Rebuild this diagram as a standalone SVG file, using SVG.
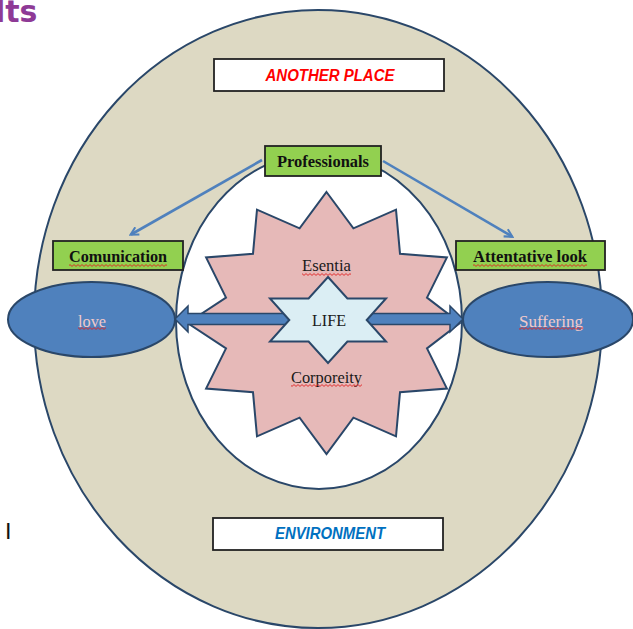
<svg xmlns="http://www.w3.org/2000/svg" width="633" height="629" viewBox="0 0 633 629">
<defs>
<style>
.shape{stroke:#2A4769;stroke-width:2}
.box{stroke:#222222;stroke-width:1.8}
.green{fill:#92D050}
.white{fill:#FFFFFF}
.serif{font-family:"Liberation Serif","Times New Roman",serif;font-size:16px;text-anchor:middle}
.bold{font-weight:bold}
.label{font-family:"Liberation Sans",Arial,sans-serif;font-size:16px;font-weight:bold;font-style:italic;text-anchor:middle}
.wave{fill:url(#wavy)}
.conn{stroke:#4F81BD;stroke-width:2.6;fill:none}
.block{fill:#4F81BD;stroke:#2A4769;stroke-width:1.5}
</style>
<pattern id="wavy" patternUnits="userSpaceOnUse" x="0" y="0" width="4" height="3">
<path d="M0,2.4 L2,0.6 L4,2.4" fill="none" stroke="#E02020" stroke-width="0.9"/>
</pattern>
<marker id="arr" viewBox="0 0 10 10" refX="8" refY="5" markerWidth="4" markerHeight="4" orient="auto" markerUnits="strokeWidth">
<path d="M1,1 L8.5,5 L1,9" fill="none" stroke="#4F81BD" stroke-width="2"/>
</marker>
</defs>
<rect x="0" y="0" width="633" height="629" fill="#FFFFFF"/>
<text x="-5" y="22" font-family="'DejaVu Sans',Verdana,sans-serif" font-size="30" font-weight="bold" fill="#8E3A96">lts</text>
<text x="5" y="539" font-family="'DejaVu Sans',Verdana,sans-serif" font-size="22" fill="#111111">I</text>

<g id="another-place-ring">
<ellipse class="shape" cx="318" cy="319" rx="284" ry="309" fill="#DDD9C3"/>
</g>
<g id="inner-circle">
<ellipse class="shape" cx="319" cy="321" rx="143" ry="168" fill="#FFFFFF"/>
</g>
<g id="another-place">
<rect class="box white" x="214" y="59" width="230" height="32"/>
<text class="label" x="330" y="80.5" fill="#FF0000" textLength="129" lengthAdjust="spacingAndGlyphs">ANOTHER PLACE</text>
</g>
<g id="environment">
<rect class="box white" x="213" y="518" width="230" height="32"/>
<text class="label" x="330" y="539" font-size="15" fill="#0070C0" textLength="110" lengthAdjust="spacingAndGlyphs">ENVIRONMENT</text>
</g>
<g id="essence-star">
<polygon class="shape" fill="#E6B9B8" points="326.5,192 353.4,228.3 396,209.6 400,253.7 446.9,257.5 427,297.6 460,323 427,348.4 446.9,388.5 400,392.3 396,436.4 353.4,417.7 326.5,454 299.6,417.7 257,436.4 253,392.3 206.1,388.5 226,348.4 187.5,323 226,297.6 206.1,257.5 253,253.7 257,209.6 299.6,228.3"/>
<text class="serif" x="326.5" y="271" fill="#1A1A1A" textLength="49" lengthAdjust="spacingAndGlyphs">Esentia</text>
<rect class="wave" x="302" y="273" width="49" height="3"/>
<text class="serif" x="326.5" y="383" fill="#1A1A1A" textLength="71" lengthAdjust="spacingAndGlyphs">Corporeity</text>
<rect class="wave" x="291" y="384" width="71" height="3"/>
</g>

<g id="connectors">
<line class="conn" x1="262" y1="160" x2="131" y2="234.5" marker-end="url(#arr)"/>
<line class="conn" x1="383" y1="161" x2="512" y2="236.5" marker-end="url(#arr)"/>
<polygon class="block" points="175,319 188,306 188,313.5 300,313.5 300,324.5 188,324.5 188,332"/>
<polygon class="block" points="463,319 450,306 450,313.5 356,313.5 356,324.5 450,324.5 450,332"/>
</g>

<g id="life">
<polygon class="shape" fill="#DBEEF4" points="328,277 347.4,298.5 386,298.5 366.7,320 386,341.5 347.4,341.5 328,363 308.6,341.5 270,341.5 289.3,320 270,298.5 308.6,298.5"/>
<text class="serif" x="329" y="326" font-size="17" fill="#1A1A1A" textLength="34" lengthAdjust="spacingAndGlyphs">LIFE</text>
</g>
<g id="professionals">
<rect class="box green" x="265" y="146" width="116" height="30"/>
<text class="serif bold" x="323" y="167" fill="#111111" textLength="92" lengthAdjust="spacingAndGlyphs">Professionals</text>
</g>
<g id="comunication">
<rect class="box green" x="53" y="241" width="130" height="29"/>
<text class="serif bold" x="118" y="262" fill="#111111" textLength="98" lengthAdjust="spacingAndGlyphs">Comunication</text>
<rect class="wave" x="69" y="264" width="98" height="3"/>
</g>
<g id="attentative-look">
<rect class="box green" x="456" y="241" width="149" height="29"/>
<text class="serif bold" x="530" y="262" fill="#111111" textLength="114" lengthAdjust="spacingAndGlyphs">Attentative look</text>
<rect class="wave" x="473" y="264" width="114" height="3"/>
</g>
<g id="love">
<ellipse class="shape" cx="91.5" cy="319.5" rx="83.5" ry="37.5" fill="#4F81BD"/>
<text class="serif" x="92" y="327" fill="#F2CACA" textLength="28" lengthAdjust="spacingAndGlyphs">love</text>
<rect class="wave" x="78" y="327" width="28" height="3"/>
</g>
<g id="suffering">
<ellipse class="shape" cx="548" cy="319.5" rx="85" ry="37.5" fill="#4F81BD"/>
<text class="serif" x="551" y="327" fill="#F2CACA" textLength="64" lengthAdjust="spacingAndGlyphs">Suffering</text>
<rect class="wave" x="519" y="327" width="64" height="3"/>
</g>
</svg>
